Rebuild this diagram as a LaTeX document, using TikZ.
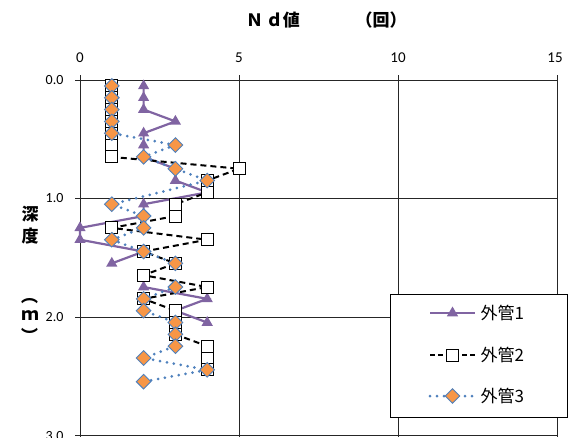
\documentclass[tikz,border=0pt]{standalone}
\usepackage{fontspec}
\setmainfont{Carlito}
\newfontfamily\jp{Noto Sans CJK JP}
\usetikzlibrary{shapes.geometric}
\definecolor{cpurple}{HTML}{8064A2}
\definecolor{corange}{HTML}{F79646}
\definecolor{cblue}{HTML}{4F81BD}
\tikzset{
  gridln/.style={line width=1pt, black!85},
  s1line/.style={cpurple, line width=2.2pt},
  s2line/.style={black, line width=2pt, dash pattern=on 6pt off 4pt},
  s3line/.style={cblue, line width=3pt, line cap=round, dash pattern=on 0pt off 7pt},
  tri/.style={regular polygon, regular polygon sides=3, fill=cpurple, inner sep=0pt, minimum size=13pt},
  sq/.style={rectangle, draw=black, fill=white, line width=0.9pt, inner sep=0pt, minimum size=12pt},
  dia/.style={diamond, draw=cblue, fill=corange, line width=0.9pt, inner sep=0pt, minimum size=15pt},
  ylab/.style={anchor=east, font=\fontsize{14}{14}\selectfont},
  xlab/.style={font=\fontsize{15}{15}\selectfont},
  leglab/.style={anchor=west, font=\jp\fontsize{17}{17}\selectfont},
  ttl/.style={font=\jp\bfseries\fontsize{17}{17}\selectfont}
}
\begin{document}
\begin{tikzpicture}[x=1pt,y=-1pt]
\useasboundingbox (0,0) rectangle (570,437);
% grid and axes
\foreach \gx in {239,398,557} \draw[gridln] (\gx,80) -- (\gx,437);
\foreach \gy in {198,317,435} \draw[gridln] (80,\gy) -- (557,\gy);
\draw[gridln] (80,80) -- (557,80);
\draw[gridln] (80,80) -- (80,437);
\foreach \gx in {80,239,398,557} \draw[gridln] (\gx,75) -- (\gx,80);
\foreach \gy in {80,198,317,435} \draw[gridln] (75,\gy) -- (80,\gy);
% labels
\node[ylab] (y0) at (67,80) {0.0};
\node[ylab] (y1) at (67,198) {1.0};
\node[ylab] (y2) at (67,317) {2.0};
\node[ylab] (y3) at (67,436) {3.0};
\node[xlab] (x0) at (80,58) {0};
\node[xlab] (x5) at (239,58) {5};
\node[xlab] (x10) at (398,58) {10};
\node[xlab] (x15) at (555,58) {15};
\node[ttl] (t1) at (273,20) {Ｎ\,ｄ値};
\node[ttl] (t2) at (381,20) {（回）};
\node[ttl] (v1) at (30,214) {深};
\node[ttl] (v2) at (30,236) {度};
\node[ttl,rotate=-90] (v3) at (30,296) {（};
\node[ttl] (v4) at (30,316) {ｍ};
\node[ttl,rotate=-90] (v5) at (30,336) {）};
% data
\begin{scope}[shift={(80,80)}, x=31.8pt, y=-118.3pt]
% series 1
\foreach \d/\v [count=\i] in {0.05/2,0.15/2,0.25/2,0.35/3,0.45/2,0.55/2,0.65/2,0.75/3,0.85/3,0.95/4,1.05/2,1.15/2,1.25/0,1.35/0,1.45/2,1.55/1,1.75/2,1.85/4,1.95/3,2.05/4}
  \coordinate (a\i) at (\v,\d);
\draw[s1line] (a1) \foreach \i in {2,...,16} { -- (a\i) };
\draw[s1line] (a17) -- (a18) -- (a19) -- (a20);
\foreach \i in {1,...,20} \node[tri] (am\i) at (a\i) {};
% series 2
\foreach \d/\v [count=\i] in {0.05/1,0.15/1,0.25/1,0.35/1,0.45/1,0.55/1,0.65/1,0.75/5,0.85/4,0.95/4,1.05/3,1.15/3,1.25/1,1.35/4,1.45/2,1.55/3,1.65/2,1.75/4,1.85/2,1.95/3,2.05/3,2.15/3,2.25/4,2.35/4,2.45/4}
  \coordinate (b\i) at (\v,\d);
\draw[s2line] (b1) \foreach \i in {2,...,25} { -- (b\i) };
\foreach \i in {1,...,25} \node[sq] (bm\i) at (b\i) {};
% series 3
\foreach \d/\v [count=\i] in {0.05/1,0.15/1,0.25/1,0.35/1,0.45/1,0.55/3,0.65/2,0.75/3,0.85/4,1.05/1,1.15/2,1.25/2,1.35/1,1.45/2,1.55/3,1.75/3,1.85/2,1.95/2,2.05/3,2.15/3,2.25/3,2.35/2,2.45/4,2.55/2}
  \coordinate (c\i) at (\v,\d);
\draw[s3line] (c1) \foreach \i in {2,...,15} { -- (c\i) };
\draw[s3line] (c16) \foreach \i in {17,...,24} { -- (c\i) };
\foreach \i in {1,...,24} \node[dia] (cm\i) at (c\i) {};
\end{scope}
% legend
\node[draw=black, fill=white, line width=0.8pt, minimum width=177pt, minimum height=123pt, anchor=north west, inner sep=0pt] (leg) at (390,294) {};
\coordinate (l1a) at (430,313); \coordinate (l1b) at (475,313);
\coordinate (l2a) at (430,355); \coordinate (l2b) at (475,355);
\coordinate (l3a) at (430,396); \coordinate (l3b) at (475,396);
\draw[s1line] (l1a) -- (l1b);
\node[tri] (lm1) at (452.5,313) {};
\draw[s2line, dash pattern=on 5pt off 3pt] (l2a) -- (l2b);
\node[sq] (lm2) at (452.5,355) {};
\draw[s3line] (l3a) -- (l3b);
\node[dia] (lm3) at (452.5,396) {};
\node[leglab] (lt1) at (477,313) {外管1};
\node[leglab] (lt2) at (477,355) {外管2};
\node[leglab] (lt3) at (477,396) {外管3};
\end{tikzpicture}
\end{document}
